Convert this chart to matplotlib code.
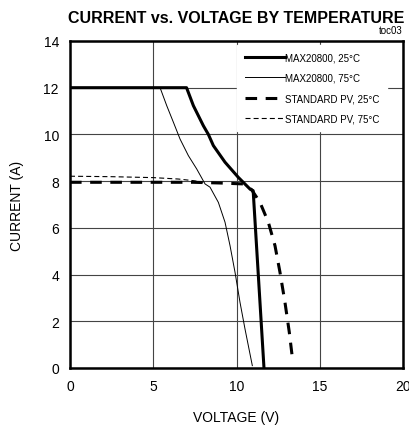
import matplotlib
matplotlib.use("Agg")
from matplotlib import pyplot as plt
from matplotlib import font_manager

names = {f.name for f in font_manager.fontManager.ttflist}
FONT = ["Liberation Sans Narrow", "Liberation Sans", "DejaVu Sans"]
FONT = [f for f in FONT if f in names] + ["DejaVu Sans"]
plt.rcParams["font.family"] = FONT

# MAX20800, 25C
max25_v = [0, 7.0, 7.41, 8.01, 8.31, 8.61, 9.31, 10.11, 10.81, 11.0, 11.65]
max25_i = [12, 12, 11.23, 10.37, 10.0, 9.52, 8.81, 8.16, 7.66, 7.59, 0]
# MAX20800, 75C
max75_v = [0, 5.41, 5.81, 6.21, 6.61, 7.11, 7.61, 8.11, 8.41, 8.91, 9.31, 9.61, 9.91, 10.21, 10.51, 10.95]
max75_i = [12, 12, 11.23, 10.52, 9.8, 9.09, 8.52, 7.88, 7.74, 7.09, 6.24, 5.24, 4.1, 2.81, 1.67, 0.1]
# standard PV, 25C
pv25_v = [0, 5, 7.41, 9.0, 10.41, 10.91, 11.41, 11.91, 12.31, 12.61, 12.91, 13.17, 13.35]
pv25_i = [7.95, 7.95, 7.95, 7.92, 7.88, 7.63, 7.09, 6.24, 5.24, 4.1, 2.81, 1.53, 0.46]
# standard PV, 75C
pv75_v = [0, 2.5, 5.0, 6.5, 7.4, 8.0]
pv75_i = [8.21, 8.19, 8.15, 8.09, 8.02, 7.95]

fig = plt.figure(figsize=(4.10, 4.31), dpi=100)
ax = fig.add_axes([0.1707, 0.1439, 0.8123, 0.7587])

ax.plot(max25_v, max25_i, color="black", lw=2.2, label="MAX20800, 25°C", zorder=4)
ax.plot(max75_v, max75_i, color="black", lw=0.7, label="MAX20800, 75°C", zorder=4)
ax.plot(pv25_v, pv25_i, color="black", lw=2.2, ls=(0, (3.8, 2.8)), label="STANDARD PV, 25°C", zorder=4)
ax.plot(pv75_v, pv75_i, color="black", lw=0.8, ls=(0, (4.5, 2.8)), label="STANDARD PV, 75°C", zorder=4)

ax.set_xlim(0, 20)
ax.set_ylim(0, 14)
ax.set_xticks([0, 5, 10, 15, 20])
ax.set_yticks(range(0, 15, 2))
ax.grid(True, color="#444444", lw=0.8)
ax.tick_params(length=0, labelsize=10, pad=8)
for s in ax.spines.values():
    s.set_linewidth(1.8)

ax.set_xlabel("VOLTAGE (V)", fontsize=10, labelpad=12)
ax.set_ylabel("CURRENT (A)", fontsize=10, labelpad=14)

leg = ax.legend(loc="upper right", bbox_to_anchor=(0.962, 0.997), fontsize=7, frameon=True,
                fancybox=False, edgecolor="white", framealpha=1, handlelength=4.1,
                handletextpad=0.05, labelspacing=1.05, borderpad=0.8, borderaxespad=0.3)
leg.set_zorder(5)

fig.text(0.575, 0.957, "CURRENT vs. VOLTAGE BY TEMPERATURE", ha="center", va="center",
         fontsize=11.5, fontweight="bold")
fig.text(0.983, 0.928, "toc03", ha="right", va="center", fontsize=7)

fig.savefig("out.png", dpi=100)
